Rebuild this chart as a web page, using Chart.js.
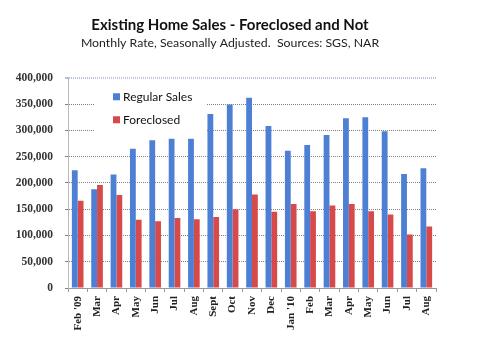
<!doctype html>
<html lang="en">
<head>
  <meta charset="utf-8">
  <title>Existing Home Sales</title>
  <script src="https://cdn.jsdelivr.net/npm/chart.js"></script>
  <style>
    html, body { margin: 0; padding: 0; background: #fff; }
    #wrap { width: 480px; height: 360px; }
  </style>
</head>
<body>
<div id="wrap"><canvas id="myChart" width="480" height="360"></canvas></div>
<script>
// months, Feb '09 .. Aug '10
const months = ["Feb '09", 'Mar', 'Apr', 'May', 'Jun', 'Jul', 'Aug', 'Sept', 'Oct', 'Nov', 'Dec',
  "Jan '10", 'Feb', 'Mar', 'Apr', 'May', 'Jun', 'Jul', 'Aug'];
const regularSales = [224000, 188000, 216000, 265000, 281000, 296000, 293000, 331000, 349000, 362000, 308000,
  261000, 272000, 291000, 323000, 325000, 298000, 217000, 228000];
const foreclosed = [166000, 196000, 177000, 130000, 127000, 133000, 131000, 135000, 150000, 178000, 145000,
  160000, 146000, 157000, 160000, 146000, 140000, 102000, 117000];
const yTicks = [0, 50000, 100000, 150000, 200000, 250000, 300000, 350000, 400000];

// legend sits inside the plot, top left, on a white box
const innerLegend = {
  id: 'innerLegend',
  afterLayout(chart) {
    // shift the title block a bit so it is centred like the original
    chart.boxes.forEach(b => {
      if (b.options && b.options.text) b.left = 24;
    });
  },
  afterDraw(chart) {
    const c = chart.ctx;
    const x0 = chart.chartArea.left + 26;
    const y0 = chart.chartArea.top + 1;
    c.save();
    c.fillStyle = '#fff';
    c.fillRect(x0, y0, 113, 60);
    c.font = '12px Lato, sans-serif';
    c.textBaseline = 'middle';
    chart.data.datasets.forEach((ds, i) => {
      const y = y0 + 18 + i * 23;
      c.fillStyle = ds.backgroundColor;
      c.fillRect(x0 + 19, y - 3.5, 7, 7);
      c.fillStyle = '#111';
      c.fillText(ds.label, x0 + 29, y);
    });
    c.restore();
  }
};

const ctx = document.getElementById('myChart').getContext('2d');
const myChart = new Chart(ctx, {
  type: 'bar',
  data: {
    labels: months,
    datasets: [
      { label: 'Regular Sales', data: regularSales, backgroundColor: '#4d80d4' },
      { label: 'Foreclosed', data: foreclosed, backgroundColor: '#d84a4a' }
    ]
  },
  options: {
    responsive: false,
    animation: false,
    layout: { padding: { left: 0, right: 44, top: 0, bottom: 0 } },
    datasets: { bar: { categoryPercentage: 0.6, barPercentage: 1.0 } },
    plugins: {
      legend: { display: false },
      tooltip: { enabled: false },
      title: {
        display: true,
        text: 'Existing Home Sales - Foreclosed and Not',
        color: '#111',
        font: { family: 'Lato, sans-serif', size: 15, weight: 'bold' },
        padding: { top: 16, bottom: 2 }
      },
      subtitle: {
        display: true,
        text: 'Monthly Rate, Seasonally Adjusted.  Sources: SGS, NAR',
        color: '#222',
        font: { family: 'Lato, sans-serif', size: 12.3 },
        padding: { top: 0, bottom: 27 }
      }
    },
    scales: {
      x: {
        grid: { drawOnChartArea: false, drawTicks: true, tickLength: 4, offset: true, color: '#999' },
        border: { color: '#999' },
        ticks: {
          minRotation: 90, maxRotation: 90, autoSkip: false, padding: 4,
          color: '#222',
          font: { family: '"Liberation Serif", serif', size: 11, weight: 'bold' }
        },
        afterFit(scale) { scale.height = 72; }
      },
      y: {
        min: 0, max: 400000,
        afterBuildTicks(scale) { scale.ticks = yTicks.map(v => ({ value: v })); },
        grid: {
          color: c => c.tick && c.tick.value === 400000 ? '#b8c0dc' : '#808080',
          lineWidth: c => c.tick && c.tick.value === 400000 ? 2 : 1,
          tickLength: 3
        },
        border: { color: '#bbb' },
        ticks: {
          color: '#333',
          padding: 12,
          font: { family: '"Liberation Serif", serif', size: 11.5, weight: 'bold' },
          callback: v => v.toLocaleString('en-US')
        },
        afterFit(scale) { scale.width = 68; }
      }
    }
  },
  plugins: [innerLegend]
});
// dotted lines, as in the original
myChart.options.scales.y.grid.borderDash = [2, 1];
myChart.options.scales.y.border.dash = [1, 1];
myChart.update();
</script>
</body>
</html>
